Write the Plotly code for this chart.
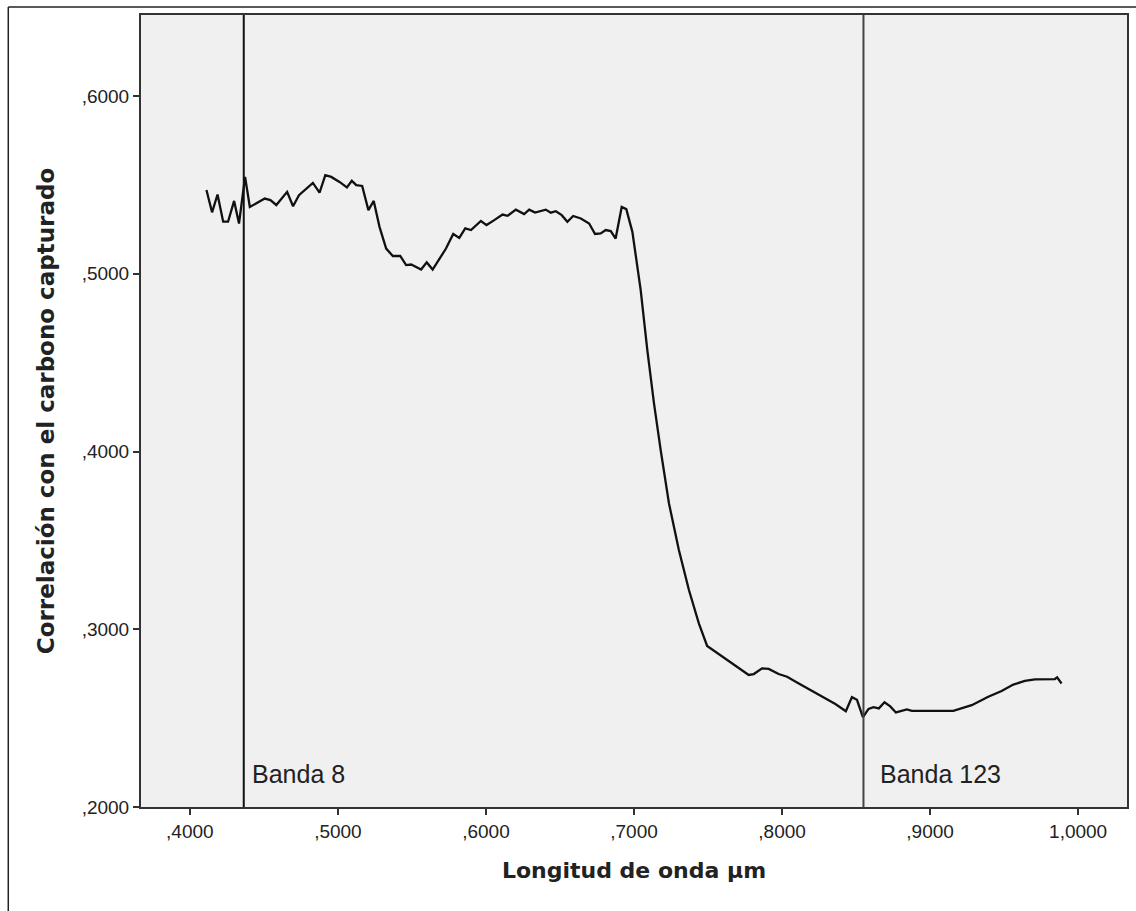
import plotly.graph_objects as go

wavelength = [0.4112, 0.4150, 0.4187, 0.4225, 0.4258, 0.4299, 0.4332, 0.4373, 0.4405, 0.4506,
              0.4544, 0.4584, 0.4657, 0.4697, 0.4737, 0.4831, 0.4876, 0.4915, 0.4955, 0.5011,
              0.5061, 0.5094, 0.5124, 0.5164, 0.5206, 0.5242, 0.5281, 0.5326, 0.5371, 0.5421,
              0.5461, 0.5495, 0.5562, 0.5600, 0.5640, 0.5685, 0.5730, 0.5779, 0.5820, 0.5860,
              0.5899, 0.5966, 0.6004, 0.6056, 0.6112, 0.6146, 0.6202, 0.6258, 0.6292, 0.6332,
              0.6404, 0.6438, 0.6472, 0.6512, 0.6550, 0.6589, 0.6641, 0.6697, 0.6737, 0.6775,
              0.6809, 0.6843, 0.6876, 0.6917, 0.6948, 0.6989, 0.7045, 0.7090, 0.7135, 0.7180,
              0.7236, 0.7303, 0.7371, 0.7438, 0.7494, 0.7775, 0.7809, 0.7865, 0.7910, 0.7977,
              0.8034, 0.8113, 0.8203, 0.8292, 0.8360, 0.8431, 0.8472, 0.8506, 0.8546, 0.8584,
              0.8618, 0.8654, 0.8692, 0.8731, 0.8769, 0.8843, 0.8877, 0.9157, 0.9281, 0.9393,
              0.9483, 0.9562, 0.9640, 0.9708, 0.9843, 0.9858, 0.9888]
correlation = [0.5471, 0.5346, 0.5446, 0.5293, 0.5293, 0.5410, 0.5283, 0.5545, 0.5376, 0.5423,
               0.5415, 0.5387, 0.5461, 0.5380, 0.5442, 0.5511, 0.5457, 0.5555, 0.5545, 0.5517,
               0.5486, 0.5523, 0.5499, 0.5494, 0.5358, 0.5410, 0.5264, 0.5142, 0.5100, 0.5101,
               0.5049, 0.5052, 0.5024, 0.5064, 0.5024, 0.5086, 0.5142, 0.5224, 0.5202, 0.5255,
               0.5246, 0.5297, 0.5274, 0.5302, 0.5333, 0.5326, 0.5361, 0.5336, 0.5361, 0.5344,
               0.5361, 0.5344, 0.5352, 0.5330, 0.5293, 0.5325, 0.5311, 0.5283, 0.5224, 0.5227,
               0.5246, 0.5240, 0.5198, 0.5376, 0.5364, 0.5236, 0.4910, 0.4571, 0.4271, 0.4009,
               0.3709, 0.3446, 0.3221, 0.3033, 0.2906, 0.2743, 0.2748, 0.2780, 0.2777, 0.2748,
               0.2733, 0.2695, 0.2653, 0.2611, 0.2579, 0.2539, 0.2618, 0.2603, 0.2505, 0.2552,
               0.2562, 0.2555, 0.2589, 0.2566, 0.2532, 0.2549, 0.2541, 0.2541, 0.2573, 0.2620,
               0.2653, 0.2689, 0.2709, 0.2718, 0.2720, 0.2729, 0.2695]

x_tickvals = [0.4, 0.5, 0.6, 0.7, 0.8, 0.9, 1.0]
x_ticktext = [",4000", ",5000", ",6000", ",7000", ",8000", ",9000", "1,0000"]
y_tickvals = [0.2, 0.3, 0.4, 0.5, 0.6]
y_ticktext = [",2000", ",3000", ",4000", ",5000", ",6000"]

band_names = ["Banda 8", "Banda 123"]
band_positions = [0.4364, 0.8550]
band_colors = ["#111111", "#444444"]
band_label_shift = [6, 15]

fig = go.Figure()
fig.add_trace(go.Scatter(x=wavelength, y=correlation, mode="lines",
                         line=dict(color="#111111", width=2.3), showlegend=False))

shapes = []
annotations = []
for name, pos, col, sh in zip(band_names, band_positions, band_colors, band_label_shift):
    shapes.append(dict(type="line", xref="x", yref="paper", x0=pos, x1=pos, y0=0, y1=1,
                       line=dict(color=col, width=2)))
    annotations.append(dict(x=pos, y=0.2186, xref="x", yref="y", text=name, showarrow=False,
                            xanchor="left", yanchor="middle", xshift=sh,
                            font=dict(family="Liberation Sans, Arial, sans-serif", size=25, color="#222222")))

# outer frame (top and left)
shapes.append(dict(type="line", xref="paper", yref="paper", x0=-0.1346, x1=1.01, y0=1.0101, y1=1.0101,
                   line=dict(color="#222222", width=1.5)))
shapes.append(dict(type="line", xref="paper", yref="paper", x0=-0.1346, x1=-0.1346, y0=1.0101, y1=-0.14,
                   line=dict(color="#222222", width=1.5)))

fig.update_layout(
    width=1136, height=911,
    margin=dict(l=141, r=7, t=15, b=104),
    paper_bgcolor="white", plot_bgcolor="#F0F0F0",
    shapes=shapes, annotations=annotations,
    font=dict(family="Liberation Sans, Arial, sans-serif", color="#222222"),
    xaxis=dict(range=[0.367, 1.033], tickvals=x_tickvals, ticktext=x_ticktext,
               ticks="outside", ticklen=6, tickwidth=2, tickcolor="#333333",
               showgrid=False, zeroline=False, showline=True, linecolor="#333333", linewidth=2, mirror=True,
               tickfont=dict(size=19),
               title=dict(text="<b>Longitud de onda µm</b>", font=dict(size=22, family="DejaVu Sans, sans-serif"), standoff=22)),
    yaxis=dict(range=[0.2, 0.6456], tickvals=y_tickvals, ticktext=y_ticktext,
               ticks="outside", ticklen=6, tickwidth=2, tickcolor="#333333",
               showgrid=False, zeroline=False, showline=True, linecolor="#333333", linewidth=2, mirror=True,
               tickfont=dict(size=19),
               title=dict(text="<b>Correlación con el carbono capturado</b>", font=dict(size=23, family="DejaVu Sans, sans-serif"), standoff=21)),
)

fig.write_html("out.html", config={"displayModeBar": False},
               post_script="document.body.style.margin='0';document.body.style.padding='0';")
